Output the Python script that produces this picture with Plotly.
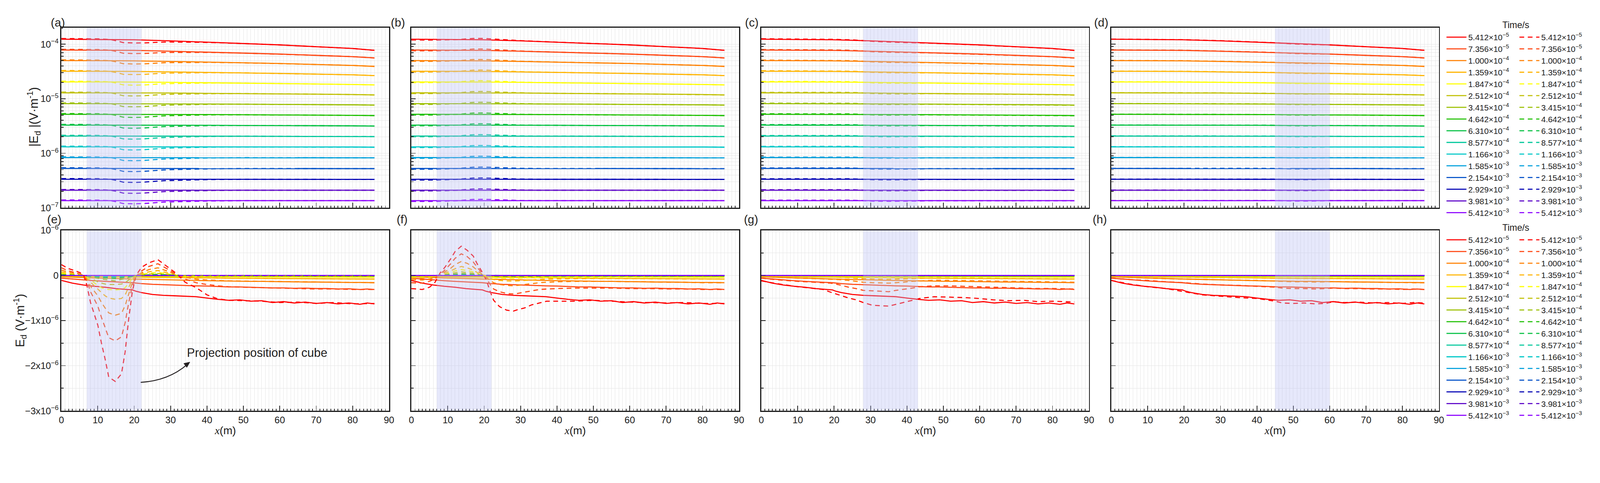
import numpy as np
import plotly.graph_objects as go

W, H = 4409, 1237
FONT = "Liberation Sans, Arial, sans-serif"
GRID = "#e3e3e3"
INK = "#1a1a1a"

# ---- time steps (legend) and colours ----
TIME_MANT = ["5.412", "7.356", "1.000", "1.359", "1.847", "2.512", "3.415", "4.642",
             "6.310", "8.577", "1.166", "1.585", "2.154", "2.929", "3.981", "5.412"]
TIME_EXP = [5, 5, 4, 4, 4, 4, 4, 4, 4, 4, 3, 3, 3, 3, 3, 3]
COLORS = ["#ff0000", "#ff4510", "#ff8000", "#ffb400", "#ffff00", "#c0c000", "#9cc000", "#1ec000",
          "#00c040", "#00c89c", "#00c8c8", "#00a0dc", "#0050c8", "#0000b4", "#5a00c8", "#8c00ff"]

# x-range of the cube projection, per column
CUBE_X = [(7, 22), (7, 22), (28, 43), (45, 60)]

# ---- top row: |E_d| (V/m), solid curves (same background in all columns) ----
X_TOP = [0, 10, 20, 30, 40, 50, 60, 70, 80, 86]
TOP_SOLID = [
    [1.23e-4, 1.22e-4, 1.20e-4, 1.15e-4, 1.09e-4, 1.025e-4, 9.68e-5, 8.98e-5, 8.33e-5, 7.69e-5],
    [7.80e-5, 7.75e-5, 7.67e-5, 7.42e-5, 7.15e-5, 6.85e-5, 6.57e-5, 6.23e-5, 5.90e-5, 5.58e-5],
    [5.00e-5, 4.97e-5, 4.94e-5, 4.82e-5, 4.69e-5, 4.54e-5, 4.41e-5, 4.24e-5, 4.07e-5, 3.91e-5],
    [3.19e-5, 3.17e-5, 3.16e-5, 3.10e-5, 3.04e-5, 2.97e-5, 2.90e-5, 2.82e-5, 2.74e-5, 2.65e-5],
    [2.03e-5, 2.03e-5, 2.02e-5, 1.99e-5, 1.96e-5, 1.93e-5, 1.90e-5, 1.86e-5, 1.82e-5, 1.79e-5],
    [1.28e-5, 1.28e-5, 1.28e-5, 1.27e-5, 1.25e-5, 1.24e-5, 1.23e-5, 1.21e-5, 1.19e-5, 1.17e-5],
    [8.12e-6, 8.11e-6, 8.10e-6, 8.05e-6, 7.99e-6, 7.92e-6, 7.87e-6, 7.78e-6, 7.71e-6, 7.62e-6],
    [5.18e-6, 5.17e-6, 5.17e-6, 5.14e-6, 5.11e-6, 5.07e-6, 5.04e-6, 4.99e-6, 4.95e-6, 4.90e-6],
    [3.28e-6, 3.28e-6, 3.28e-6, 3.26e-6, 3.25e-6, 3.23e-6, 3.22e-6, 3.20e-6, 3.18e-6, 3.15e-6],
    [2.07e-6, 2.07e-6, 2.07e-6, 2.06e-6, 2.06e-6, 2.05e-6, 2.04e-6, 2.04e-6, 2.03e-6, 2.02e-6],
    [1.31e-6, 1.31e-6, 1.31e-6, 1.31e-6, 1.31e-6, 1.30e-6, 1.30e-6, 1.30e-6, 1.30e-6, 1.29e-6],
    [8.33e-7, 8.33e-7, 8.33e-7, 8.32e-7, 8.31e-7, 8.30e-7, 8.28e-7, 8.27e-7, 8.26e-7, 8.24e-7],
    [5.26e-7, 5.26e-7, 5.26e-7, 5.25e-7, 5.25e-7, 5.24e-7, 5.24e-7, 5.23e-7, 5.23e-7, 5.22e-7],
    [3.33e-7, 3.33e-7, 3.33e-7, 3.33e-7, 3.33e-7, 3.33e-7, 3.33e-7, 3.32e-7, 3.32e-7, 3.32e-7],
    [2.10e-7, 2.10e-7, 2.10e-7, 2.10e-7, 2.10e-7, 2.10e-7, 2.10e-7, 2.10e-7, 2.10e-7, 2.10e-7],
    [1.35e-7, 1.35e-7, 1.35e-7, 1.35e-7, 1.35e-7, 1.35e-7, 1.35e-7, 1.35e-7, 1.35e-7, 1.35e-7],
]

# dashed (with cube) / solid ratio
RATIO_X_A = [0, 6, 10, 13.5, 15, 17, 20, 23, 25, 28, 32, 37, 42, 50, 86]
RATIO_A = [1.03, 1.03, 1.025, 1.0, 0.955, 0.885, 0.875, 0.89, 0.91, 0.94, 0.96, 0.975, 0.99, 1.0, 1.0]
RATIO_X_B = [0, 4, 7, 10, 13, 15, 17, 20, 22, 24, 27, 30, 35, 86]
RATIO_B = [0.97, 0.965, 0.97, 0.985, 1.0, 1.03, 1.055, 1.06, 1.05, 1.03, 1.015, 1.008, 1.0, 1.0]
RATIO_X_C = [0, 25, 28, 31, 35, 40, 43, 46, 86]
RATIO_C = [1.02, 1.02, 1.0, 0.98, 0.975, 0.975, 0.985, 0.995, 0.995]
RATIO_X_D = [0, 45, 50, 55, 60, 86]
RATIO_D = [1.005, 1.005, 0.985, 0.985, 1.0, 1.0]

# ---- bottom row: E_d in units of 1e-6 V/m ----
BOT_SOLID_X = [0, 3, 6, 9, 12, 15, 18, 19.5, 20.5, 22, 25, 28, 31, 34, 37, 40, 43, 46, 49, 52,
               55, 58, 61, 64, 67, 70, 73, 76, 79, 82, 84, 86]
BOT_SOLID_HI = [
    [-0.11, -0.17, -0.21, -0.24, -0.26, -0.29, -0.31, -0.32, -0.35, -0.38, -0.42, -0.44, -0.45, -0.46,
     -0.47, -0.50, -0.53, -0.55, -0.54, -0.57, -0.56, -0.60, -0.58, -0.61, -0.59, -0.62, -0.60, -0.63,
     -0.61, -0.64, -0.61, -0.63],
    [-0.06, -0.08, -0.10, -0.115, -0.13, -0.145, -0.155, -0.16, -0.17, -0.18, -0.195, -0.205, -0.215,
     -0.22, -0.23, -0.235, -0.245, -0.255, -0.255, -0.265, -0.27, -0.275, -0.275, -0.285, -0.28, -0.29,
     -0.29, -0.30, -0.295, -0.31, -0.30, -0.31],
    [-0.03, -0.04, -0.05, -0.055, -0.06, -0.07, -0.075, -0.078, -0.08, -0.085, -0.09, -0.095, -0.10,
     -0.105, -0.11, -0.115, -0.12, -0.125, -0.125, -0.13, -0.13, -0.135, -0.14, -0.14, -0.145, -0.145,
     -0.15, -0.15, -0.155, -0.155, -0.16, -0.16],
    [-0.015, -0.02, -0.024, -0.027, -0.03, -0.033, -0.036, -0.037, -0.038, -0.04, -0.043, -0.046,
     -0.049, -0.051, -0.053, -0.055, -0.057, -0.06, -0.061, -0.063, -0.064, -0.066, -0.068, -0.069,
     -0.07, -0.072, -0.073, -0.075, -0.076, -0.077, -0.078, -0.08],
    [-0.007, -0.009, -0.011, -0.013, -0.015, -0.016, -0.017, -0.018, -0.018, -0.019, -0.021, -0.022,
     -0.023, -0.024, -0.025, -0.026, -0.027, -0.028, -0.029, -0.03, -0.031, -0.032, -0.033, -0.034,
     -0.035, -0.035, -0.036, -0.037, -0.038, -0.038, -0.039, -0.04],
]
BOT_SOLID_LO_X = [0, 43, 86]
BOT_SOLID_LO = [
    [-0.004, -0.013, -0.02], [-0.002, -0.007, -0.01], [-0.001, -0.004, -0.006],
    [-0.001, -0.002, -0.003], [0.0, -0.001, -0.002], [0.0, -0.001, -0.001], [0.0, 0.0, -0.001],
    [0.0, 0.0, 0.0], [0.0, 0.0, 0.0], [0.0, 0.0, 0.0], [0.0, 0.0, 0.0],
]

# panel (e), dashed
DASH_E_X = [0, 2, 4, 6, 7, 8, 10, 11, 12, 13, 14.8, 16.5, 17.5, 18.5, 19.5, 20.5, 22, 24, 26.5, 29,
            31.5, 34, 37, 40, 43, 46, 50, 55, 60, 65, 70, 75, 80, 86]
DASH_E_HI = [
    [0.24, 0.15, 0.10, 0.03, -0.22, -0.6, -1.1, -1.5, -1.85, -2.25, -2.35, -2.18, -1.7, -0.95, -0.35,
     0.0, 0.18, 0.28, 0.35, 0.2, 0.05, -0.15, -0.27, -0.43, -0.52, -0.55, -0.56, -0.57, -0.6, -0.59,
     -0.62, -0.6, -0.63, -0.62],
    [0.17, 0.10, 0.06, 0.01, -0.12, -0.36, -0.68, -0.93, -1.15, -1.38, -1.45, -1.36, -1.05, -0.6, -0.22,
     -0.02, 0.1, 0.2, 0.26, 0.15, 0.03, -0.08, -0.16, -0.2, -0.23, -0.25, -0.26, -0.27, -0.28, -0.29,
     -0.3, -0.3, -0.31, -0.31],
    [0.12, 0.07, 0.04, 0.01, -0.08, -0.24, -0.45, -0.6, -0.72, -0.83, -0.88, -0.84, -0.67, -0.4, -0.15,
     -0.02, 0.06, 0.13, 0.17, 0.1, 0.02, -0.04, -0.08, -0.1, -0.11, -0.12, -0.125, -0.13, -0.135, -0.14,
     -0.145, -0.15, -0.155, -0.16],
    [0.08, 0.05, 0.03, 0.01, -0.05, -0.15, -0.3, -0.38, -0.45, -0.5, -0.53, -0.51, -0.43, -0.26, -0.09,
     -0.01, 0.04, 0.08, 0.11, 0.06, 0.01, -0.02, -0.04, -0.05, -0.055, -0.058, -0.06, -0.062, -0.065,
     -0.068, -0.07, -0.073, -0.076, -0.08],
    [0.05, 0.03, 0.02, 0.005, -0.03, -0.1, -0.22, -0.27, -0.3, -0.31, -0.32, -0.31, -0.27, -0.17, -0.06,
     -0.005, 0.025, 0.05, 0.07, 0.04, 0.005, -0.01, -0.02, -0.025, -0.028, -0.03, -0.031, -0.032,
     -0.034, -0.035, -0.036, -0.037, -0.038, -0.04],
    [0.03, 0.02, 0.012, 0.003, -0.02, -0.06, -0.14, -0.17, -0.19, -0.2, -0.2, -0.19, -0.16, -0.1, -0.035,
     -0.003, 0.015, 0.03, 0.045, 0.025, 0.003, -0.006, -0.012, -0.015, -0.016, -0.017, -0.018, -0.018,
     -0.019, -0.019, -0.02, -0.02, -0.02, -0.02],
]
DASH_E_LO_X = [0, 6, 8, 11, 14.8, 18.5, 21, 26.5, 33, 86]
DASH_E_LO = [
    [0.02, 0.002, -0.03, -0.08, -0.12, -0.05, 0.0, 0.03, 0.0, -0.01],
    [0.012, 0.001, -0.015, -0.045, -0.07, -0.03, 0.0, 0.02, 0.0, -0.006],
    [0.008, 0.0, -0.01, -0.03, -0.045, -0.02, 0.0, 0.012, 0.0, -0.003],
    [0.005, 0.0, -0.006, -0.018, -0.028, -0.012, 0.0, 0.008, 0.0, -0.002],
    [0.003, 0.0, -0.004, -0.01, -0.016, -0.007, 0.0, 0.005, 0.0, -0.001],
    [0.002, 0.0, -0.002, -0.006, -0.01, -0.004, 0.0, 0.003, 0.0, 0.0],
    [0.001, 0.0, -0.001, -0.004, -0.006, -0.002, 0.0, 0.002, 0.0, 0.0],
    [0.0, 0.0, -0.001, -0.002, -0.003, -0.001, 0.0, 0.001, 0.0, 0.0],
    [0.0, 0.0, 0.0, -0.001, -0.002, -0.001, 0.0, 0.0, 0.0, 0.0],
    [0.0, 0.0, 0.0, 0.0, -0.001, 0.0, 0.0, 0.0, 0.0, 0.0],
]

# panel (f), dashed
DASH_F_X = [0, 3, 5, 6.5, 8, 9.2, 10.8, 12, 13.7, 15.3, 17, 18, 19.2, 20.6, 21.8, 22.6, 24.2, 26.2,
            28, 29.1, 31.1, 33.1, 35.2, 37.2, 40, 45, 50, 55, 60, 65, 70, 75, 80, 86]
DASH_F_HI = [
    [-0.29, -0.31, -0.26, -0.15, 0.07, 0.18, 0.37, 0.53, 0.65, 0.56, 0.43, 0.27, 0.11, -0.1, -0.39,
     -0.55, -0.69, -0.77, -0.79, -0.76, -0.72, -0.65, -0.61, -0.57, -0.57, -0.57, -0.55, -0.57, -0.59,
     -0.6, -0.61, -0.6, -0.62, -0.62],
    [-0.16, -0.17, -0.13, -0.07, 0.04, 0.12, 0.26, 0.38, 0.48, 0.42, 0.3, 0.19, 0.07, -0.06, -0.22,
     -0.3, -0.36, -0.4, -0.41, -0.4, -0.37, -0.34, -0.31, -0.3, -0.29, -0.28, -0.28, -0.28, -0.29,
     -0.29, -0.3, -0.3, -0.31, -0.31],
    [-0.09, -0.1, -0.08, -0.04, 0.02, 0.08, 0.16, 0.24, 0.31, 0.27, 0.19, 0.12, 0.04, -0.04, -0.12,
     -0.16, -0.2, -0.22, -0.23, -0.22, -0.2, -0.18, -0.16, -0.15, -0.14, -0.13, -0.13, -0.13, -0.14,
     -0.14, -0.15, -0.15, -0.16, -0.16],
    [-0.05, -0.055, -0.045, -0.02, 0.015, 0.05, 0.1, 0.15, 0.2, 0.17, 0.12, 0.07, 0.02, -0.02, -0.07,
     -0.09, -0.11, -0.12, -0.125, -0.12, -0.11, -0.1, -0.09, -0.08, -0.075, -0.07, -0.068, -0.068,
     -0.07, -0.072, -0.074, -0.076, -0.078, -0.08],
    [-0.025, -0.028, -0.022, -0.01, 0.01, 0.035, 0.065, 0.1, 0.13, 0.11, 0.08, 0.045, 0.012, -0.01,
     -0.035, -0.045, -0.055, -0.06, -0.062, -0.06, -0.055, -0.05, -0.045, -0.042, -0.04, -0.037,
     -0.035, -0.035, -0.036, -0.037, -0.038, -0.039, -0.04, -0.04],
    [-0.012, -0.014, -0.011, -0.005, 0.006, 0.02, 0.04, 0.06, 0.08, 0.068, 0.05, 0.028, 0.008, -0.005,
     -0.018, -0.024, -0.028, -0.03, -0.031, -0.03, -0.028, -0.026, -0.024, -0.022, -0.021, -0.02,
     -0.019, -0.019, -0.019, -0.02, -0.02, -0.02, -0.02, -0.02],
]
DASH_F_LO_X = [0, 7, 10, 13.7, 17, 20.6, 24, 30, 40, 86]
DASH_F_LO = [
    [-0.006, -0.002, 0.02, 0.045, 0.03, -0.003, -0.012, -0.015, -0.012, -0.01],
    [-0.003, -0.001, 0.012, 0.028, 0.018, -0.002, -0.007, -0.008, -0.007, -0.006],
    [-0.002, 0.0, 0.007, 0.017, 0.011, -0.001, -0.004, -0.005, -0.004, -0.003],
    [-0.001, 0.0, 0.004, 0.01, 0.007, 0.0, -0.002, -0.003, -0.002, -0.002],
    [0.0, 0.0, 0.002, 0.006, 0.004, 0.0, -0.001, -0.002, -0.001, -0.001],
    [0.0, 0.0, 0.001, 0.004, 0.002, 0.0, -0.001, -0.001, 0.0, 0.0],
    [0.0, 0.0, 0.001, 0.002, 0.001, 0.0, 0.0, 0.0, 0.0, 0.0],
    [0.0, 0.0, 0.0, 0.001, 0.001, 0.0, 0.0, 0.0, 0.0, 0.0],
    [0.0, 0.0, 0.0, 0.0, 0.0, 0.0, 0.0, 0.0, 0.0, 0.0],
    [0.0, 0.0, 0.0, 0.0, 0.0, 0.0, 0.0, 0.0, 0.0, 0.0],
]

# panel (g), dashed
DASH_G_X = [0, 5, 10, 15, 17, 19, 21, 24, 26, 28, 30.5, 32.5, 35, 37, 39, 41.4, 43.5, 45.5, 47.5,
            51.6, 55.6, 59.7, 63.7, 68, 72, 76, 80, 86]
DASH_G_HI = [
    [-0.12, -0.19, -0.25, -0.29, -0.31, -0.37, -0.42, -0.5, -0.54, -0.6, -0.66, -0.67, -0.68, -0.64,
     -0.6, -0.55, -0.51, -0.49, -0.47, -0.48, -0.49, -0.51, -0.54, -0.56, -0.55, -0.58, -0.57, -0.59],
    [-0.06, -0.1, -0.13, -0.15, -0.16, -0.17, -0.2, -0.26, -0.29, -0.33, -0.34, -0.35, -0.36, -0.33,
     -0.31, -0.28, -0.25, -0.24, -0.23, -0.23, -0.24, -0.25, -0.26, -0.27, -0.28, -0.29, -0.29, -0.3],
    [-0.03, -0.045, -0.055, -0.07, -0.075, -0.08, -0.09, -0.11, -0.13, -0.15, -0.16, -0.165, -0.17,
     -0.16, -0.15, -0.13, -0.12, -0.11, -0.105, -0.11, -0.115, -0.12, -0.125, -0.13, -0.135, -0.14,
     -0.145, -0.15],
    [-0.015, -0.022, -0.028, -0.033, -0.035, -0.037, -0.04, -0.05, -0.06, -0.07, -0.08, -0.083, -0.085,
     -0.08, -0.075, -0.066, -0.06, -0.056, -0.055, -0.057, -0.06, -0.063, -0.066, -0.068, -0.07,
     -0.072, -0.075, -0.078],
    [-0.007, -0.01, -0.014, -0.016, -0.017, -0.018, -0.019, -0.024, -0.028, -0.034, -0.038, -0.04,
     -0.041, -0.039, -0.036, -0.032, -0.029, -0.027, -0.026, -0.028, -0.03, -0.032, -0.033, -0.034,
     -0.035, -0.036, -0.038, -0.04],
    [-0.003, -0.005, -0.007, -0.008, -0.0085, -0.009, -0.01, -0.012, -0.014, -0.017, -0.019, -0.02,
     -0.021, -0.02, -0.018, -0.016, -0.015, -0.014, -0.013, -0.014, -0.015, -0.016, -0.017, -0.017,
     -0.018, -0.018, -0.019, -0.02],
]
DASH_G_LO_X = [0, 28, 35, 43, 86]
DASH_G_LO = [
    [-0.002, -0.008, -0.012, -0.008, -0.01], [-0.001, -0.005, -0.007, -0.005, -0.006],
    [-0.001, -0.003, -0.004, -0.003, -0.003], [0.0, -0.002, -0.003, -0.002, -0.002],
    [0.0, -0.001, -0.002, -0.001, -0.001], [0.0, -0.001, -0.001, 0.0, -0.001],
    [0.0, 0.0, -0.001, 0.0, 0.0], [0.0, 0.0, 0.0, 0.0, 0.0], [0.0, 0.0, 0.0, 0.0, 0.0],
    [0.0, 0.0, 0.0, 0.0, 0.0],
]

# panel (h), dashed
DASH_H_X = [0, 5, 10, 15, 20, 25, 30, 35, 40, 45, 47, 50, 53, 56, 59, 61, 64, 68, 72, 76, 80, 83, 86]
DASH_H_HI = [
    [-0.11, -0.19, -0.25, -0.29, -0.36, -0.43, -0.46, -0.49, -0.51, -0.57, -0.61, -0.62, -0.61, -0.63,
     -0.62, -0.58, -0.6, -0.59, -0.61, -0.6, -0.62, -0.6, -0.61],
    [-0.06, -0.09, -0.11, -0.14, -0.16, -0.19, -0.21, -0.22, -0.24, -0.26, -0.28, -0.29, -0.29, -0.3,
     -0.29, -0.28, -0.29, -0.29, -0.3, -0.3, -0.31, -0.3, -0.31],
    [-0.03, -0.045, -0.055, -0.07, -0.08, -0.09, -0.1, -0.105, -0.11, -0.125, -0.135, -0.14, -0.14,
     -0.145, -0.14, -0.135, -0.14, -0.145, -0.15, -0.15, -0.155, -0.16, -0.16],
    [-0.015, -0.022, -0.028, -0.033, -0.038, -0.043, -0.048, -0.051, -0.054, -0.06, -0.064, -0.066,
     -0.066, -0.067, -0.066, -0.064, -0.066, -0.069, -0.071, -0.073, -0.075, -0.077, -0.079],
    [-0.007, -0.01, -0.013, -0.016, -0.018, -0.021, -0.023, -0.024, -0.026, -0.029, -0.031, -0.032,
     -0.032, -0.033, -0.032, -0.031, -0.032, -0.034, -0.035, -0.036, -0.037, -0.038, -0.039],
    [-0.003, -0.005, -0.006, -0.008, -0.009, -0.01, -0.011, -0.012, -0.013, -0.014, -0.015, -0.016,
     -0.016, -0.016, -0.016, -0.015, -0.016, -0.017, -0.017, -0.018, -0.018, -0.019, -0.02],
]
DASH_H_LO_X = [0, 45, 52, 60, 86]
DASH_H_LO = [
    [-0.002, -0.007, -0.009, -0.007, -0.01], [-0.001, -0.004, -0.005, -0.004, -0.006],
    [-0.001, -0.002, -0.003, -0.002, -0.003], [0.0, -0.001, -0.002, -0.001, -0.002],
    [0.0, -0.001, -0.001, -0.001, -0.001], [0.0, 0.0, -0.001, 0.0, -0.001],
    [0.0, 0.0, 0.0, 0.0, 0.0], [0.0, 0.0, 0.0, 0.0, 0.0], [0.0, 0.0, 0.0, 0.0, 0.0],
    [0.0, 0.0, 0.0, 0.0, 0.0],
]

TOP_RATIOS = [(RATIO_X_A, RATIO_A), (RATIO_X_B, RATIO_B), (RATIO_X_C, RATIO_C), (RATIO_X_D, RATIO_D)]
BOT_DASHED = [(DASH_E_X, DASH_E_HI, DASH_E_LO_X, DASH_E_LO),
              (DASH_F_X, DASH_F_HI, DASH_F_LO_X, DASH_F_LO),
              (DASH_G_X, DASH_G_HI, DASH_G_LO_X, DASH_G_LO),
              (DASH_H_X, DASH_H_HI, DASH_H_LO_X, DASH_H_LO)]

# ---- page geometry (pixels) ----
LEFTS = [163, 1132, 2101, 3070]
PW = 907
ROWS = [(60, 570), (634, 1145)]
LABEL_X = [[153, 1095, 2074, 3042], [143, 1106, 2072, 3038]]
LABEL_Y = [45, 603]
DASH = "13px,10px"
LW = 3


def sfx(p):
    return "" if p == 0 else str(p + 1)


def time_label(i):
    return f"{TIME_MANT[i]}×10<sup>−{TIME_EXP[i]}</sup>"


def log_eval(xs, x_ref, y_ref):
    return 10 ** np.interp(xs, x_ref, np.log10(y_ref))


fig = go.Figure()

for p in range(8):
    row, col = divmod(p, 4)
    xa, ya = "x" + sfx(p), "y" + sfx(p)
    show = col == 0
    leg_s = "legend" if row == 0 else "legend3"
    leg_d = "legend2" if row == 0 else "legend4"

    # solid curves
    for i in range(16):
        if row == 0:
            xs, ys = X_TOP, TOP_SOLID[i]
        elif i < len(BOT_SOLID_HI):
            xs, ys = BOT_SOLID_X, BOT_SOLID_HI[i]
        else:
            xs, ys = BOT_SOLID_LO_X, BOT_SOLID_LO[i - len(BOT_SOLID_HI)]
        fig.add_trace(go.Scatter(
            x=xs, y=ys, xaxis=xa, yaxis=ya, mode="lines",
            line=dict(color=COLORS[i], width=LW),
            name=time_label(i), legend=leg_s, showlegend=show, hoverinfo="skip",
        ))

    # dashed curves
    for i in range(16):
        if row == 0:
            rx, rv = TOP_RATIOS[col]
            xs = sorted(set(X_TOP) | set(rx))
            ys = log_eval(xs, X_TOP, TOP_SOLID[i]) * np.interp(xs, rx, rv)
        else:
            dx, dhi, dlx, dlo = BOT_DASHED[col]
            if i < len(dhi):
                xs, ys = dx, dhi[i]
            else:
                xs, ys = dlx, dlo[i - len(dhi)]
        fig.add_trace(go.Scatter(
            x=xs, y=ys, xaxis=xa, yaxis=ya, mode="lines",
            line=dict(color=COLORS[i], width=LW, dash=DASH),
            name=time_label(i), legend=leg_d, showlegend=show, hoverinfo="skip",
        ))

# ---- axes ----
tick_font = dict(family=FONT, size=26, color=INK)
layout_axes = {}
for p in range(8):
    row, col = divmod(p, 4)
    top, bot = ROWS[row]
    xdom = [LEFTS[col] / W, (LEFTS[col] + PW) / W]
    layout_axes["xaxis" + sfx(p)] = dict(
        domain=xdom, anchor="y" + sfx(p),
        range=[0, 90], tickmode="linear", tick0=0, dtick=10,
        showticklabels=row == 1, tickfont=tick_font,
        ticks="inside", ticklen=14, tickwidth=2, tickcolor=INK,
        showgrid=True, gridcolor=GRID, gridwidth=1,
        minor=dict(dtick=1, tick0=0, ticks="inside", ticklen=6, tickwidth=1.5, tickcolor=INK,
                   showgrid=True, gridcolor=GRID, gridwidth=1),
        showline=True, mirror=True, linecolor=INK, linewidth=2.5, zeroline=False,
    )
    # companion axis carrying the long unlabeled ticks at every 5 m
    layout_axes[f"xaxis{p + 9}"] = dict(
        domain=xdom, anchor="y" + sfx(p), overlaying="x" + sfx(p),
        range=[0, 90], tickmode="linear", tick0=5, dtick=10, showticklabels=False,
        ticks="inside", ticklen=14, tickwidth=2, tickcolor=INK,
        showgrid=False, showline=False, zeroline=False,
    )
    yax = dict(
        domain=[1 - bot / H, 1 - top / H], anchor="x" + sfx(p),
        showticklabels=col == 0, tickfont=tick_font,
        ticks="inside", ticklen=12, tickwidth=2, tickcolor=INK,
        showgrid=True, gridcolor=GRID, gridwidth=1,
        showline=True, mirror=True, linecolor=INK, linewidth=2.5, zeroline=False,
    )
    if row == 0:
        yax.update(
            type="log", range=[-7, np.log10(2e-4)], tickmode="array",
            tickvals=[1e-7, 1e-6, 1e-5, 1e-4],
            ticktext=[f"10<sup>−{k}</sup>" for k in (7, 6, 5, 4)],
            minor=dict(tickvals=[m * 10.0 ** e for e in range(-7, -3) for m in range(2, 10)],
                       ticks="inside", ticklen=7, tickwidth=1.5, tickcolor=INK,
                       showgrid=True, gridcolor=GRID, gridwidth=1),
        )
    else:
        yax.update(
            range=[-3, 1], tickmode="array", tickvals=[-3, -2, -1, 0, 1],
            ticktext=["−3x10<sup>−6</sup>", "−2x10<sup>−6</sup>", "−1x10<sup>−6</sup>", "0",
                      "10<sup>−6</sup>"],
            minor=dict(tickvals=[-2.5, -1.5, -0.5, 0.5], ticks="inside", ticklen=7, tickwidth=1.5,
                       tickcolor=INK, showgrid=True, gridcolor=GRID, gridwidth=1),
        )
    layout_axes["yaxis" + sfx(p)] = yax

# ---- shaded cube projection + curved arrow ----
shapes = []
for p in range(8):
    col = p % 4
    x0, x1 = CUBE_X[col]
    shapes.append(dict(type="rect", xref="x" + sfx(p), yref="y" + sfx(p) + " domain",
                       x0=x0, x1=x1, y0=0, y1=1, fillcolor="rgb(184,189,244)",
                       opacity=0.35, line=dict(width=0), layer="above"))
shapes.append(dict(type="path", xref="x5", yref="y5",
                   path="M 21.8,-2.37 Q 29.5,-2.33 34.6,-1.97",
                   line=dict(color="#231f20", width=2.5)))
shapes.append(dict(type="path", xref="x5", yref="y5",
                   path="M 35.3,-1.92 L 34.46,-2.04 L 33.62,-1.95 Z",
                   fillcolor="#231f20", line=dict(color="#231f20", width=1)))

# ---- text ----
ann = []


def add_text(text, x, y, size, angle=0, xref="paper", yref="paper", color=INK):
    if xref == "paper":
        x, y = x / W, 1 - y / H
    ann.append(dict(text=text, x=x, y=y, xref=xref, yref=yref, xanchor="center",
                    yanchor="middle", showarrow=False, textangle=angle,
                    font=dict(family=FONT, size=size, color=color)))


for row in range(2):
    for col in range(4):
        add_text("(" + "abcdefgh"[row * 4 + col] + ")", LABEL_X[row][col], LABEL_Y[row], 32,
                 color="#231f20")
add_text("|E<sub>d</sub> |(V·m<sup>-1</sup>)", 87, 313, 33, angle=-90)
add_text("E<sub>d</sub> (V·m<sup>-1</sup>)", 48, 889, 33, angle=-90)
for col in range(4):
    add_text('<span style="font-family:Liberation Serif"><i>x</i></span>(m)',
             LEFTS[col] + PW / 2, 1201, 30)
for ty in (52, 626):
    add_text("Time/s", 4190, ty, 25)
add_text("Projection position of cube", 53.8, -1.71, 33, xref="x5", yref="y5", color="#231f20")


def legend_cfg(xpx, ypx):
    return dict(x=xpx / W, y=1 - ypx / H, xanchor="left", yanchor="top",
                font=dict(family=FONT, size=22.5, color=INK), bgcolor="rgba(0,0,0,0)",
                borderwidth=0, tracegroupgap=0, itemwidth=55, traceorder="normal")


fig.update_layout(
    width=W, height=H, margin=dict(l=0, r=0, t=0, b=0),
    paper_bgcolor="white", plot_bgcolor="white",
    font=dict(family=FONT, color=INK),
    shapes=shapes, annotations=ann,
    legend=legend_cfg(3993, 65), legend2=legend_cfg(4195, 65),
    legend3=legend_cfg(3993, 639), legend4=legend_cfg(4195, 639),
    **layout_axes,
)

# fit the fixed-size figure exactly into whatever viewport the page is shown in
FIT_JS = (
    "document.documentElement.style.overflow='hidden';"
    "document.body.style.margin='0';document.body.style.overflow='hidden';"
    f"var z=Math.min(window.innerWidth/{W}, window.innerHeight/{H});"
    "if (Math.abs(z-1)>0.002) {document.body.style.zoom=z;}"
)
fig.write_html("out.html", config={"displayModeBar": False}, post_script=FIT_JS)
